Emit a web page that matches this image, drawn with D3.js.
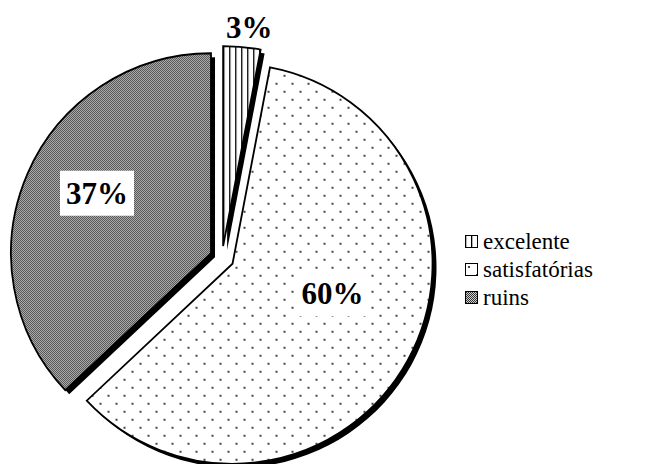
<!DOCTYPE html>
<html>
<head>
<meta charset="utf-8">
<script src="https://cdn.jsdelivr.net/npm/d3@7"></script>
<style>
  body { margin: 0; background: #fff; }
  svg { display: block; }
</style>
</head>
<body>
<svg id="chart" width="663" height="464"></svg>
<script>
// Avaliação: distribuição das respostas
const categories = ["excelente", "satisfatórias", "ruins"];
const values = [3, 60, 37];
const valueLabels = ["3%", "60%", "37%"];
const patternIds = ["pat-lines", "pat-dots", "pat-check"];

const FONT = '"Liberation Serif", "Times New Roman", Tinos, serif';
const svg = d3.select("#chart");
const cx = 222, cy = 258, R = 200, explode = 12, shadow = 4;

// ---- fill patterns ----
const defs = svg.append("defs");

const pLines = defs.append("pattern").attr("id", "pat-lines")
  .attr("patternUnits", "userSpaceOnUse").attr("width", 6).attr("height", 6);
pLines.append("rect").attr("width", 6).attr("height", 6).attr("fill", "#fff");
pLines.append("rect").attr("x", 0).attr("width", 1.3).attr("height", 6).attr("fill", "#000");

const pDots = defs.append("pattern").attr("id", "pat-dots")
  .attr("patternUnits", "userSpaceOnUse").attr("width", 16).attr("height", 16);
pDots.append("rect").attr("width", 16).attr("height", 16).attr("fill", "#fff");
pDots.append("rect").attr("x", 3).attr("y", 3).attr("width", 2).attr("height", 2).attr("fill", "#444");
pDots.append("rect").attr("x", 11).attr("y", 11).attr("width", 2).attr("height", 2).attr("fill", "#444");

const pCheck = defs.append("pattern").attr("id", "pat-check")
  .attr("patternUnits", "userSpaceOnUse").attr("width", 2).attr("height", 2);
pCheck.append("rect").attr("width", 2).attr("height", 2).attr("fill", "#d0d0d0");
pCheck.append("rect").attr("x", 0).attr("y", 0).attr("width", 1).attr("height", 1).attr("fill", "#333");
pCheck.append("rect").attr("x", 1).attr("y", 1).attr("width", 1).attr("height", 1).attr("fill", "#333");

// ---- pie ----
const pie = d3.pie().sort(null).value(d => d.value);
const arcs = pie(categories.map((c, i) => ({ name: c, value: values[i], label: valueLabels[i], pat: patternIds[i] })));
const arcGen = d3.arc().innerRadius(0).outerRadius(R);

function offset(d) {
  const a = (d.startAngle + d.endAngle) / 2;
  return [cx + explode * Math.sin(a), cy - explode * Math.cos(a)];
}

const slices = svg.append("g").selectAll("g").data(arcs).join("g")
  .attr("transform", d => { const [x, y] = offset(d); return `translate(${x},${y})`; });

// drop shadows first
slices.append("path")
  .attr("d", arcGen)
  .attr("transform", `translate(${shadow},${shadow})`)
  .attr("fill", "#000");

slices.append("path")
  .attr("d", arcGen)
  .attr("fill", d => `url(#${d.data.pat})`)
  .attr("stroke", "#000")
  .attr("stroke-width", 1.8)
  .attr("stroke-linejoin", "miter");

// ---- value labels ----
// label anchor relative to each slice's own center
const labelOffsets = [[26, -219], [100, 30], [-114, -60]];
const boxed = [false, true, true];

const lbl = svg.append("g");
arcs.forEach((d, i) => {
  const [ox, oy] = offset(d);
  const x = ox + labelOffsets[i][0], y = oy + labelOffsets[i][1];
  const t = lbl.append("text")
    .attr("x", x).attr("y", y)
    .attr("text-anchor", "middle")
    .attr("dominant-baseline", "central")
    .style("font-family", FONT)
    .style("font-weight", "bold")
    .style("font-size", "31px")
    .text(d.data.label);
  if (boxed[i]) {
    const bb = t.node().getBBox();
    lbl.insert("rect", () => t.node())
      .attr("x", bb.x - 6).attr("y", bb.y - 5)
      .attr("width", bb.width + 12).attr("height", bb.height + 10)
      .attr("fill", "#fff");
  }
});

// ---- legend ----
const legend = svg.append("g").attr("transform", "translate(465,235)");
const rowH = 28;
const items = legend.selectAll("g").data(categories).join("g")
  .attr("transform", (d, i) => `translate(0,${i * rowH})`);
items.append("rect")
  .attr("x", 0.5).attr("y", 0.5).attr("width", 12).attr("height", 12)
  .attr("fill", (d, i) => `url(#${patternIds[i]})`)
  .attr("stroke", "#000").attr("stroke-width", 1);
items.append("text")
  .attr("x", 18).attr("y", 6.5)
  .attr("dominant-baseline", "central")
  .style("font-family", FONT)
  .style("font-size", "23px")
  .text(d => d);
</script>
</body>
</html>
